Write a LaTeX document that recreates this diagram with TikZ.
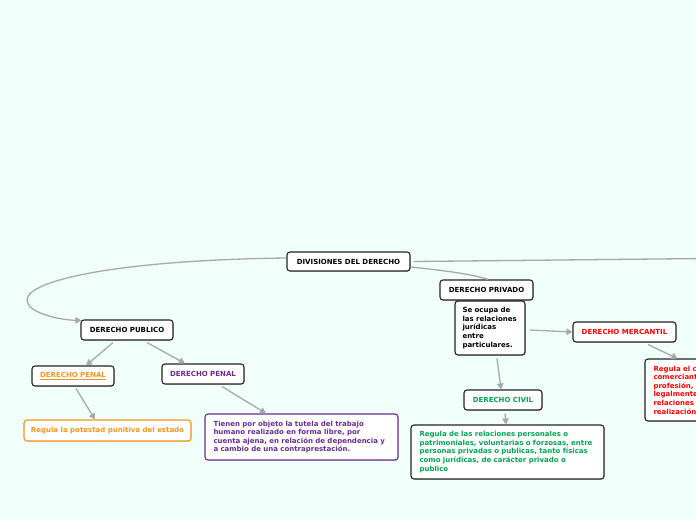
\documentclass[tikz,border=0pt]{standalone}
\usepackage{fontspec}
\newfontfamily\vf{DejaVu Sans}
\usetikzlibrary{arrows.meta,shadows}
\definecolor{bgc}{RGB}{240,255,250}
\definecolor{linec}{RGB}{168,168,168}
\definecolor{orangec}{RGB}{247,148,30}
\definecolor{purplec}{RGB}{106,44,145}
\definecolor{redc}{RGB}{255,0,0}
\definecolor{greenc}{RGB}{0,166,81}
\definecolor{borderc}{RGB}{34,34,34}
\tikzset{
  box/.style={draw=borderc, line width=1.1pt, fill=white, rounded corners=3pt,
    font=\vf\bfseries\fontsize{7}{8.6}\selectfont, inner sep=0pt,
    drop shadow={shadow xshift=0.6pt, shadow yshift=-0.8pt, opacity=0.35}},
  txtbox/.style={box, align=left, inner xsep=8.5pt},
  conn/.style={draw=linec, line width=1.3pt},
  arr/.style={conn, -{Triangle[length=6pt,width=6.5pt]}},
}
\begin{document}
\begin{tikzpicture}[x=1pt,y=-1pt]
\fill[bgc] (0,0) rectangle (696,520);
\useasboundingbox (0,0) rectangle (696,520);
\clip (0,0) rectangle (696,520);

% nodes
\node[box, minimum width=123pt, minimum height=19pt, text=black] (div) at (348.5,261.5) {DIVISIONES DEL DERECHO};
\node[box, minimum width=93pt, minimum height=20pt, text=black] (priv) at (486.5,290) {DERECHO PRIVADO};
\node[txtbox, inner xsep=7.5pt, minimum width=70pt, minimum height=54pt, text width=55pt, text=black] (seo) at (490,328)
  {\hyphenpenalty=10000 Se ocupa de\\las relaciones\\jurídicas\\entre\\particulares.};
\node[box, minimum width=103pt, minimum height=20pt, text=redc] (merc) at (624.5,332) {DERECHO MERCANTIL};
\node[txtbox, minimum width=115pt, minimum height=62pt, text width=98pt, text=redc] (regc) at (702.5,390)
  {Regula el c\\comerciant\\profesión, a\\legalmente\\relaciones j\\realización};
\node[box, minimum width=78pt, minimum height=20pt, text=greenc] (civ) at (503,400) {DERECHO CIVIL};
\node[txtbox, minimum width=191pt, minimum height=54pt, text width=176pt, text=greenc] (regd) at (507.5,452)
  {Regula de las relaciones personales o\\patrimoniales, voluntarias o forzosas, entre\\personas privadas o publicas, tanto físicas\\como jurídicas, de carácter privado o\\publico};
\node[box, minimum width=92pt, minimum height=20pt, text=black] (pub) at (127,330) {DERECHO PUBLICO};
\node[box, minimum width=82pt, minimum height=20pt, text=orangec] (peno) at (73,376) {\underline{DERECHO PENAL}};
\node[box, minimum width=82pt, minimum height=20pt, text=purplec] (penp) at (203,374) {DERECHO PENAL};
\node[box, draw=orangec, minimum width=167pt, minimum height=21pt, text=orangec] (regp) at (107.5,430.5) {Regula la potestad punitiva del estado};
\node[txtbox, draw=purplec, minimum width=191pt, minimum height=46pt, text width=176pt, text=purplec] (tien) at (301.5,437)
  {Tienen por objeto la tutela del trabajo\\humano realizado en forma libre, por\\cuenta ajena, en relación de dependencia y\\a cambio de una contraprestación.};

\coordinate (offr) at (705,258.5);

% connectors
\draw[arr] ([yshift=3.5pt]div.west) .. controls (120,260) and (27,280) .. (27,300)
  .. controls (27,313) and (60,320) .. ([xshift=1pt,yshift=-1pt]pub.north west);
\draw[conn] ([xshift=3pt]div.east) -- (offr);
\draw[conn] ([yshift=-5.5pt]div.east) .. controls (450,271) and (475,275) .. ([xshift=1.5pt]priv.north);
\draw[arr] ([xshift=4pt,yshift=-2pt]seo.east) -- (merc.west);
\draw[arr] ([xshift=23.5pt,yshift=-2pt]merc.south) -- ([xshift=33pt]regc.north west);
\draw[arr] ([xshift=7pt,yshift=-3pt]seo.south) -- ([xshift=-2pt]civ.north);
\draw[arr] ([xshift=2pt,yshift=-3pt]civ.south) -- ([xshift=-1.5pt]regd.north);
\draw[arr] ([xshift=-14pt,yshift=-2pt]pub.south) -- ([xshift=13pt]peno.north);
\draw[arr] ([xshift=20pt,yshift=-2pt]pub.south) -- ([xshift=-18pt]penp.north);
\draw[arr] ([xshift=3pt,yshift=-2pt]peno.south) -- ([xshift=-12.5pt]regp.north);
\draw[arr] ([xshift=19pt,yshift=-2pt]penp.south) -- ([xshift=-35.5pt]tien.north);
\end{tikzpicture}
\end{document}
